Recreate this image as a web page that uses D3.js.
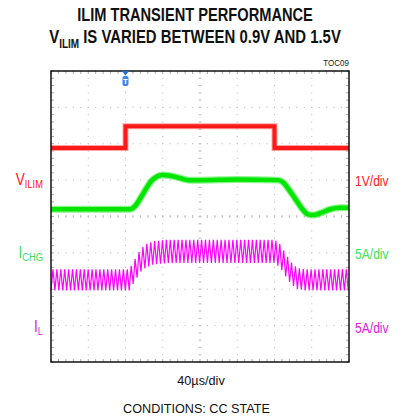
<!DOCTYPE html>
<html>
<head>
<meta charset="utf-8">
<script src="https://cdn.jsdelivr.net/npm/d3@7"></script>
<style>
  body { margin: 0; background: #fff; }
  svg { display: block; }
  text { font-family: "Liberation Sans Narrow", "Arial Narrow", "Liberation Sans", Arial, sans-serif; }
</style>
</head>
<body>
<div id="chart"></div>
<script>
// ---- data read from the scope shot ----
// time axis in microseconds, 40us/div, 8 divisions
let timeDomain = [0, 320];

// V_ILIM step (V), 1V/div
let vilimTimes = [0, 80, 80, 240, 240, 320];
let vilimVolts = [0.9, 0.9, 1.5, 1.5, 0.9, 0.9];

// I_CHG (A), 5A/div
let ichgTimes = [0, 85, 90, 96, 102, 108, 114, 120, 128, 138, 148, 160, 200, 244, 250, 256, 263, 270, 276, 282, 290, 300, 310, 320];
let ichgAmps  = [6.0, 6.0, 6.4, 7.5, 8.8, 9.9, 10.5, 10.7, 10.6, 10.3, 10.0, 10.0, 10.1, 10.0, 9.6, 8.6, 7.3, 6.0, 5.3, 5.2, 5.5, 6.0, 6.2, 6.2];

// I_L mean level (A) and peak-to-peak ripple (A), 5A/div
let ilTimes = [0, 84, 90, 96, 102, 110, 125, 240, 246, 252, 258, 264, 272, 320];
let ilAmps  = [6.3, 6.3, 7.6, 8.9, 9.6, 10.0, 10.2, 10.2, 9.6, 8.3, 7.2, 6.5, 6.3, 6.3];
let ilRipple = [2.9, 2.9, 3.0, 3.1, 3.2, 3.2, 3.2, 3.2, 3.2, 3.1, 3.0, 2.9, 2.9, 2.9];
let switchPeriod = 4.2; // us

// channel settings: volts or amps per division, ground position (divisions from centre)
let channels = [
  {name: "V", sub: "ILIM", scale: "1V/div", perDiv: 1, ground: 0.98, color: "#ff1a1a", labelColor: "#ff2020"},
  {name: "I", sub: "CHG", scale: "5A/div", perDiv: 5, ground: -1.0, color: "#00e600", labelColor: "#3ce05a"},
  {name: "I", sub: "L", scale: "5A/div", perDiv: 5, ground: -3.0, color: "#ff00ff", labelColor: "#e020e0"}
];

let triggerTime = 80;

// ---- layout ----
let W = 403, H = 417;
let plot = {left: 51, right: 349, top: 71, bottom: 362};

let svg = d3.select("#chart").append("svg")
    .attr("width", W)
    .attr("height", H);

let x = d3.scaleLinear().domain(timeDomain).range([plot.left, plot.right]);
let y = d3.scaleLinear().domain([-4, 4]).range([plot.bottom, plot.top]);
let xDiv = d3.scaleLinear().domain([0, 8]).range([plot.left, plot.right]);

function chY(ch, v) {
  return y(ch.ground + v / ch.perDiv);
}

// the original uses a condensed face; squeeze text to the measured width
// (or by a fixed factor when width is given as a negative number)
function label(px, py, anchor, width) {
  let g = svg.append("g");
  let t = g.append("text").attr("x", 0).attr("y", 0).attr("text-anchor", anchor);
  t.fit = function() {
    let s = width < 0 ? -width : width / t.node().getBBox().width;
    g.attr("transform", "translate(" + px + "," + py + ") scale(" + s + ",1)");
    return t;
  };
  return t;
}

// titles
label(195, 21, "middle", 236)
    .attr("font-size", 18).attr("font-weight", "bold")
    .attr("fill", "#111")
    .text("ILIM TRANSIENT PERFORMANCE")
    .fit();

let t2 = label(195, 43, "middle", 292)
    .attr("font-size", 18).attr("font-weight", "bold")
    .attr("fill", "#111");
t2.append("tspan").text("V");
t2.append("tspan").attr("font-size", 12).attr("dy", 5).text("ILIM");
t2.append("tspan").attr("dy", -5).text(" IS VARIED BETWEEN 0.9V AND 1.5V");
t2.fit();

label(plot.right, 66, "end", 26)
    .attr("font-size", 8.5)
    .attr("fill", "#222")
    .text("TOC09")
    .fit();

// ---- grid ----
let grid = svg.append("g").attr("class", "grid");
let minor = d3.range(0, 8.0001, 0.2);

// dotted division lines
d3.range(1, 8).forEach(function(i) {
  grid.selectAll(null)
      .data(minor)
      .enter().append("rect")
      .attr("x", d => xDiv(i) - 0.5)
      .attr("y", d => plot.top + d / 8 * (plot.bottom - plot.top) - 0.5)
      .attr("width", 1).attr("height", 1)
      .attr("fill", "#b8b8b8");
  grid.selectAll(null)
      .data(minor)
      .enter().append("rect")
      .attr("x", d => xDiv(d) - 0.5)
      .attr("y", plot.top + i / 8 * (plot.bottom - plot.top) - 0.5)
      .attr("width", 1).attr("height", 1)
      .attr("fill", "#b8b8b8");
});

// centre cross ticks
let cx = xDiv(4), cy = y(0);
grid.selectAll(null).data(minor).enter().append("line")
    .attr("x1", cx - 1.5).attr("x2", cx + 1.5)
    .attr("y1", d => plot.top + d / 8 * (plot.bottom - plot.top))
    .attr("y2", d => plot.top + d / 8 * (plot.bottom - plot.top))
    .attr("stroke", "#c4c4c4").attr("stroke-width", 1);
grid.selectAll(null).data(minor).enter().append("line")
    .attr("y1", cy - 1.5).attr("y2", cy + 1.5)
    .attr("x1", d => xDiv(d)).attr("x2", d => xDiv(d))
    .attr("stroke", "#c4c4c4").attr("stroke-width", 1);

// border ticks
[plot.top, plot.bottom].forEach(function(yy) {
  let dir = yy === plot.top ? 1 : -1;
  grid.selectAll(null).data(minor).enter().append("line")
      .attr("x1", d => xDiv(d)).attr("x2", d => xDiv(d))
      .attr("y1", yy).attr("y2", yy + dir * 3)
      .attr("stroke", "#aaa").attr("stroke-width", 1);
});
[plot.left, plot.right].forEach(function(xx) {
  let dir = xx === plot.left ? 1 : -1;
  grid.selectAll(null).data(minor).enter().append("line")
      .attr("y1", d => plot.top + d / 8 * (plot.bottom - plot.top))
      .attr("y2", d => plot.top + d / 8 * (plot.bottom - plot.top))
      .attr("x1", xx).attr("x2", xx + dir * 3)
      .attr("stroke", "#aaa").attr("stroke-width", 1);
});

// ---- traces ----
let traces = svg.append("g");

// I_L ripple: zigzag between the mean +/- half ripple
let ilMean = d3.scaleLinear().domain(ilTimes).range(ilAmps);
let ilPP = d3.scaleLinear().domain(ilTimes).range(ilRipple);
let ilPts = [];
let k = 0;
for (let t = 0; t <= timeDomain[1]; t += switchPeriod / 2) {
  let sign = (k % 2 === 0) ? -1 : 1;
  ilPts.push([t, ilMean(t) + sign * ilPP(t) / 2]);
  k++;
}
let chIL = channels[2];
traces.append("path")
    .datum(ilPts)
    .attr("fill", "none")
    .attr("stroke", chIL.color)
    .attr("stroke-width", 1.2)
    .attr("d", d3.line().x(d => x(d[0])).y(d => chY(chIL, d[1])));

// I_CHG
let chCHG = channels[1];
let chgLine = d3.line()
    .x((d, i) => x(ichgTimes[i]))
    .y(d => chY(chCHG, d))
    .curve(d3.curveMonotoneX);
traces.append("path")
    .datum(ichgAmps)
    .attr("fill", "none")
    .attr("stroke", chCHG.color)
    .attr("stroke-opacity", 0.45)
    .attr("stroke-width", 7)
    .attr("d", chgLine);
traces.append("path")
    .datum(ichgAmps)
    .attr("fill", "none")
    .attr("stroke", chCHG.color)
    .attr("stroke-width", 4.5)
    .attr("d", chgLine);

// V_ILIM
let chV = channels[0];
let vLine = d3.line()
    .x((d, i) => x(vilimTimes[i]))
    .y(d => chY(chV, d));
traces.append("path")
    .datum(vilimVolts)
    .attr("fill", "none")
    .attr("stroke", chV.color)
    .attr("stroke-opacity", 0.4)
    .attr("stroke-width", 6)
    .attr("d", vLine);
traces.append("path")
    .datum(vilimVolts)
    .attr("fill", "none")
    .attr("stroke", chV.color)
    .attr("stroke-width", 4)
    .attr("d", vLine);

// frame
svg.append("rect")
    .attr("x", plot.left).attr("y", plot.top)
    .attr("width", plot.right - plot.left)
    .attr("height", plot.bottom - plot.top)
    .attr("fill", "none")
    .attr("stroke", "#111")
    .attr("stroke-width", 1.5);

// trigger marker
let tx = x(triggerTime);
let trig = svg.append("g").attr("transform", "translate(" + tx + "," + plot.top + ")");
trig.append("path")
    .attr("d", "M-3.5,0 L3.5,0 L0,4.5 Z")
    .attr("fill", "#1f6fd6");
trig.append("rect")
    .attr("x", -3).attr("y", 5).attr("width", 6).attr("height", 10).attr("rx", 2)
    .attr("fill", "#3b86ea");
trig.append("text")
    .attr("x", 0).attr("y", 13)
    .attr("text-anchor", "middle")
    .attr("font-size", 8).attr("font-weight", "bold")
    .attr("fill", "#fff")
    .text("T");

// channel labels
let labelY = [185, 258, 332];
channels.forEach(function(ch, i) {
  let lt = label(43, labelY[i], "end", -0.85)
      .attr("font-size", 16)
      .attr("fill", ch.labelColor);
  lt.append("tspan").text(ch.name);
  lt.append("tspan").attr("font-size", 11).attr("dy", 3).text(ch.sub);
  lt.fit();

  label(355, labelY[i] + 1, "start", 34)
      .attr("font-size", 15)
      .attr("fill", ch.labelColor)
      .text(ch.scale)
      .fit();
});

// footer
label(201, 385, "middle", 48)
    .attr("font-size", 13)
    .attr("fill", "#111")
    .text("40µs/div")
    .fit();

label(196.5, 413, "middle", 147)
    .attr("font-size", 13.5)
    .attr("fill", "#111")
    .text("CONDITIONS: CC STATE")
    .fit();
</script>
</body>
</html>
